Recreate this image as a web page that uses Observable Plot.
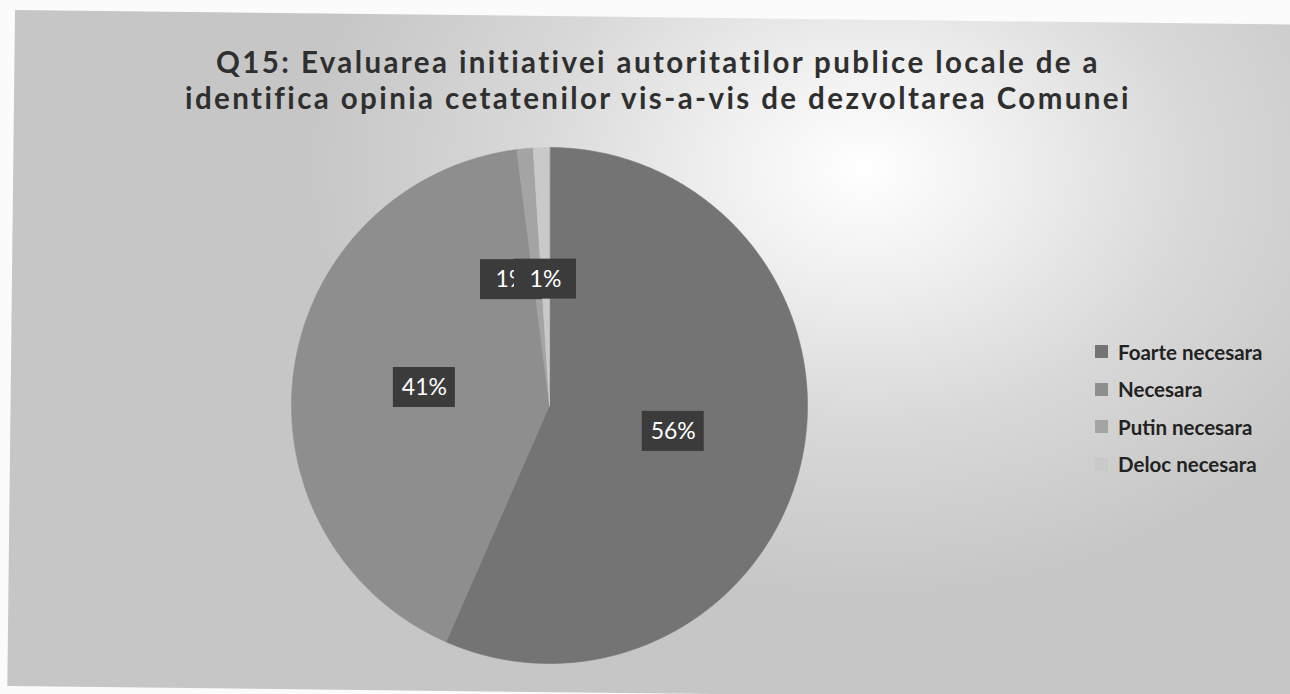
<!DOCTYPE html>
<html>
<head>
<meta charset="utf-8">
<script src="https://cdn.jsdelivr.net/npm/d3@7"></script>
<script src="https://cdn.jsdelivr.net/npm/@observablehq/plot@0.6"></script>
<style>
  html, body { margin: 0; padding: 0; background: #ffffff; }
  #page { position: relative; width: 1290px; height: 694px; overflow: hidden; background: #fbfbfb; }
  #slide { position: absolute; left: 15px; top: 10px; width: 1320px; height: 676px;
    transform-origin: 0 0; transform: rotate(0.65deg);
    background: radial-gradient(ellipse 560px 430px at 850px 150px, #ffffff 0%, #f0f0f0 25%, #d8d8d8 60%, #c6c6c6 100%); }
  #title { position: absolute; left: 0; top: 44px; width: 1316px; text-align: center;
    font-family: Lato, "DejaVu Sans", sans-serif; font-weight: 700; font-size: 29.5px;
    letter-spacing: 2.4px; color: #2f2f2f; }
  #title div { height: 35.5px; line-height: 35.5px; white-space: nowrap; }
  #chart { position: absolute; left: 0; top: 0; }
  #legend { position: absolute; left: 1095px; top: 333px; }
  #legend .lg-swatch { height: 37.5px; margin: 0; padding: 0; }
  #legend .lg-swatch svg { margin-right: 10px; }
</style>
</head>
<body>
<div id="page">
  <div id="slide"></div>
  <div id="chart"></div>
  <div id="title"><div>Q15: Evaluarea initiativei autoritatilor publice locale de a</div><div>identifica opinia cetatenilor vis-a-vis de dezvoltarea Comunei</div></div>
  <div id="legend"></div>
</div>
<script>
// ---- data ----
const categories = ["Foarte necesara", "Necesara", "Putin necesara", "Deloc necesara"];
const percents = [56, 41, 1, 1];
const pctLabels = ["56%", "41%", "1%", "1%"];

// ---- layout ----
const cx = 549, cy = 405, R = 258;
const labelRadius = 0.49;
const boxHalfW = 31, boxHalfH = 20;

const arcs = d3.pie().sort(null).value(d => d)(percents);

const slicePts = arcs.flatMap((a, i) => {
  const n = Math.max(2, Math.ceil((a.endAngle - a.startAngle) / 0.005));
  const pts = [{cat: categories[i], x: 0, y: 0}];
  for (let k = 0; k <= n; k++) {
    const t = a.startAngle + (a.endAngle - a.startAngle) * k / n;
    pts.push({cat: categories[i], x: Math.sin(t), y: Math.cos(t)});
  }
  return pts;
});

// label anchors at the middle angle of each slice; a label that would sit on top of
// the next one's text is nudged left so that the next box partly covers it
const labelRows = arcs.map((a, i) => {
  const m = (a.startAngle + a.endAngle) / 2;
  return {cat: categories[i], label: pctLabels[i], x: labelRadius * Math.sin(m), y: labelRadius * Math.cos(m)};
});
for (let i = labelRows.length - 2; i >= 0; i--) {
  const a = labelRows[i], b = labelRows[i + 1];
  const dxPx = (a.x - b.x) * R, dyPx = (a.y - b.y) * R;
  if (Math.abs(dxPx) < 34 && Math.abs(dyPx) < 2 * boxHalfH) a.x = b.x - 34 / R;
}

const labelMarks = labelRows.flatMap(r => [
  Plot.rect([r], {x1: "x", x2: "x", y1: "y", y2: "y",
    insetLeft: -boxHalfW, insetRight: -boxHalfW, insetTop: -boxHalfH, insetBottom: -boxHalfH, fill: "#3b3b3b"}),
  Plot.text([r], {x: "x", y: "y", text: "label", fill: "white", fontSize: 23, fontFamily: "Lato, sans-serif"})
]);

const plot = Plot.plot({
  width: 1290,
  height: 694,
  margin: 0,
  x: {domain: [-1, 1], range: [cx - R, cx + R], axis: null},
  y: {domain: [-1, 1], range: [cy + R, cy - R], axis: null},
  color: {domain: categories, range: ["#747474", "#8e8e8e", "#a4a4a4", "#c9c9c9"]},
  style: {background: "transparent", fontFamily: "Lato, sans-serif", overflow: "visible"},
  marks: [
    Plot.line(slicePts, {x: "x", y: "y", z: "cat", fill: "cat", stroke: "cat", strokeWidth: 0.6, curve: "linear-closed"}),
    ...labelMarks
  ]
});
document.getElementById("chart").appendChild(plot);

const legend = plot.legend("color", {
  legend: "swatches",
  columns: 1,
  swatchSize: 13,
  className: "lg",
  style: {fontFamily: "Lato, sans-serif", fontSize: "20.5px", fontWeight: 700, color: "#222222", background: "transparent"}
});
document.getElementById("legend").appendChild(legend);
</script>
</body>
</html>
